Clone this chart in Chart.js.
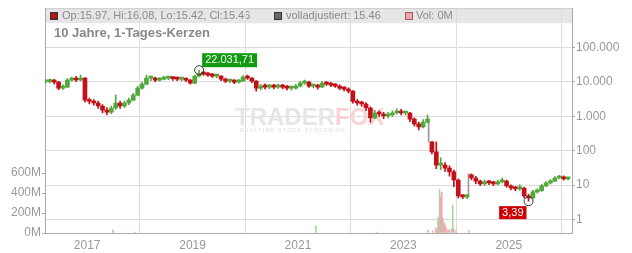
<!DOCTYPE html>
<html>
<head>
<meta charset="utf-8">
<script src="https://cdn.jsdelivr.net/npm/chart.js@4.4.1/dist/chart.umd.min.js"></script>
<style>
  html, body { margin: 0; padding: 0; background: #fff; }
</style>
</head>
<body>
<canvas id="chart" width="632" height="253"></canvas>
<script>
// Monatskerzen ab März 2016
const firstMonth = '2016-03';
const monthOpen = [
  10000, 10300, 10600, 9900, 6650, 7100, 11350, 12100, 11400, 13000,
  2980, 2700, 2440, 2000, 1520, 1330, 1750, 2440, 2000, 2440,
  2980, 4160, 6650, 8700, 13000, 13000, 11350, 12100, 13000, 13000,
  12500, 12100, 12100, 11350, 9300, 14800, 18150, 17000, 15900, 14800,
  14800, 12100, 10600, 10600, 9900, 10600, 13900, 13000, 10600, 6650,
  7600, 7100, 7600, 7100, 7600, 7100, 6650, 6650, 7600, 9300,
  9900, 7600, 7600, 7100, 9300, 8700, 8130, 7600, 6650, 6200,
  5450, 2700, 2440, 2280, 1750, 893, 1250, 1170, 1020, 1090,
  1250, 1420, 1250, 1250, 830, 600, 490, 680, 180, 92,
  38, 38, 31, 24, 14, 4.8, 4.5, 19.7, 16, 13,
  10.8, 12.3, 11.5, 10.8, 12.3, 13, 9.4, 8.2, 7.7, 8.2,
  4.8, 4.2, 6.3, 6.8, 9.4, 11.5, 13, 16, 17.2, 15
];
const monthHigh = [
  12000, 12200, 12000, 10500, 8200, 12500, 14000, 14500, 15900, 13500,
  3400, 3100, 2800, 2200, 1800, 2000, 4160, 2800, 2800, 3400,
  4700, 7600, 10000, 15900, 14800, 14000, 13500, 14500, 14200, 14000,
  13800, 13500, 13000, 12000, 15900, 22031.71, 20500, 19000, 18000, 17000,
  15500, 13000, 12000, 11800, 12000, 15500, 15900, 13500, 11000, 8600,
  8800, 8600, 8500, 8700, 8600, 8000, 7600, 8600, 10500, 11400,
  10500, 8700, 8500, 10200, 10300, 9600, 9000, 8200, 7400, 6800,
  5600, 3100, 2800, 2500, 1900, 1500, 1450, 1300, 1300, 1450,
  1650, 1600, 1420, 1300, 900, 680, 800, 1090, 185, 180,
  62, 45, 36, 27, 15, 5.3, 5.2, 21, 18, 14,
  14, 13.5, 12.8, 14, 16, 13.8, 10.2, 9.0, 10.2, 8.6,
  5.4, 7.0, 7.8, 10.4, 12.6, 14.5, 17.5, 19.2, 18.4, 16.8
];
const monthLow = [
  9300, 9400, 8700, 6000, 6100, 6900, 10500, 10200, 10800, 2600,
  2300, 2100, 1700, 1250, 1090, 1200, 1600, 1700, 1800, 2200,
  2800, 3900, 6200, 8300, 11000, 10200, 10500, 11400, 11600, 11200,
  11000, 10800, 10200, 8600, 9000, 14000, 15500, 14500, 13500, 13200,
  11000, 9600, 9500, 9000, 9200, 10200, 11800, 9600, 5400, 6000,
  6300, 6400, 6300, 6500, 6300, 5900, 5800, 6200, 7200, 8500,
  6900, 6700, 6200, 6900, 7900, 7300, 6900, 6000, 5500, 4800,
  2400, 2100, 1950, 1450, 680, 850, 1000, 850, 900, 1000,
  1150, 1100, 1080, 700, 520, 400, 460, 640, 80, 30,
  28, 25, 18, 9, 4.2, 4.0, 4.0, 14, 11, 9.6,
  9.8, 10.2, 9.5, 10, 11.5, 8.6, 7.2, 6.8, 7.0, 4.2,
  3.39, 4.0, 5.8, 6.5, 9.0, 10.8, 12.4, 15.2, 13.8, 14.0
];
const monthClose = [
  10300, 10600, 9900, 6650, 7100, 11350, 12100, 11400, 13000, 2980,
  2700, 2440, 2000, 1520, 1330, 1750, 2440, 2000, 2440, 2980,
  4160, 6650, 8700, 13000, 13000, 11350, 12100, 13000, 13000, 12500,
  12100, 12100, 11350, 9300, 14800, 18150, 17000, 15900, 14800, 14800,
  12100, 10600, 10600, 9900, 10600, 13900, 13000, 10600, 6650, 7600,
  7100, 7600, 7100, 7600, 7100, 6650, 6650, 7600, 9300, 9900,
  7600, 7600, 7100, 9300, 8700, 8130, 7600, 6650, 6200, 5450,
  2700, 2440, 2280, 1750, 893, 1250, 1170, 1020, 1090, 1250,
  1420, 1250, 1250, 830, 600, 490, 680, 830, 92, 38,
  38, 31, 24, 14, 4.8, 4.5, 4.5, 16, 13, 10.8,
  12.3, 11.5, 10.8, 12.3, 13, 9.4, 8.2, 7.7, 8.2, 4.8,
  4.2, 6.3, 6.8, 9.4, 11.5, 13, 16, 17.2, 15, 15.46
];

// Kurslücken (grau)
const gapDates = ['2023-06-25', '2024-03-27'];
const gapFrom = [830, 4.5];
const gapTo = [180, 21];

// Volumen in Mio.
const volDates = [
  '2017-06-28', '2017-11-28', '2021-05-05', '2022-07-01', '2023-06-21',
  '2023-07-24', '2023-08-15', '2023-08-22', '2023-08-29', '2023-09-05',
  '2023-09-09', '2023-09-16', '2023-09-24', '2023-10-01', '2023-10-08',
  '2023-10-15', '2023-10-23', '2023-11-06', '2023-11-17', '2023-12-01',
  '2023-12-09', '2023-12-16', '2024-01-01', '2024-03-29'
];
const volValues = [
  30, 10, 70, 10, 30,
  20, 50, 30, 160, 120,
  440, 360, 410, 150, 110,
  90, 60, 30, 30, 40,
  280, 40, 20, 30
];
const volUp = [
  0, 1, 1, 0, 0,
  0, 0, 0, 1, 0,
  1, 0, 0, 0, 1,
  0, 0, 0, 0, 1,
  1, 0, 0, 1
];

const yearTicks = [2017, 2019, 2021, 2023, 2025];
const priceTicks = [1, 10, 100, 1000, 10000, 100000];
const volTicks = [0, 200, 400, 600];

const legendText = 'Op:15.97, Hi:16.08, Lo:15.42, Cl:15.46';
const adjText = 'volladjustiert: 15.46';
const volText = 'Vol: 0M';
const titleText = '10 Jahre, 1-Tages-Kerzen';
const brandA = 'TRADER';
const brandB = 'FOX';
const brandSub = 'REALTIME STOCK SCREENING';

const FONT = '"Liberation Sans", Arial, sans-serif';
const UP = '#52a83a';
const DOWN = '#c41018';

function monthYear(i) {
  const [y, m] = firstMonth.split('-').map(Number);
  return y + (m - 1 + i + 0.5) / 12;
}
function dateYear(s) {
  const d = new Date(s + 'T00:00:00Z');
  const y = d.getUTCFullYear();
  const a = Date.UTC(y, 0, 1), b = Date.UTC(y + 1, 0, 1);
  return y + (d - a) / (b - a);
}
function formatDE(v, dec) {
  const parts = v.toFixed(dec).split('.');
  const int = parts[0].replace(/\B(?=(\d{3})+(?!\d))/g, '.');
  return parts[1] ? int + ',' + parts[1] : int;
}

const candleColors = monthClose.map((c, i) => c >= monthOpen[i] ? UP : DOWN);
const bodies = monthClose.map((c, i) => ({ x: monthYear(i), y: [monthOpen[i], c] }));
const wicks = monthClose.map((c, i) => ({ x: monthYear(i), y: [monthLow[i], monthHigh[i]] }));
const gaps = gapDates.map((d, i) => ({ x: dateYear(d), y: [gapTo[i], gapFrom[i]] }));
const vols = volDates.map((d, i) => ({ x: dateYear(d), y: volValues[i] }));
const volColors = volUp.map(u => u ? '#a6dc9c' : '#f2a7b0');

const decor = {
  id: 'decor',
  beforeDraw(chart) {
    const c = chart.ctx, a = chart.chartArea;
    c.save();
    c.fillStyle = '#e6e6e6';
    c.fillRect(a.left + 1, a.top, a.right - a.left - 1, 15);
    c.strokeStyle = '#cccccc';
    c.lineWidth = 1;
    c.beginPath();
    c.moveTo(a.left, a.top + 0.5);
    c.lineTo(a.right, a.top + 0.5);
    c.stroke();

    const sq = (x, fill, line) => {
      c.fillStyle = fill;
      c.fillRect(x + 0.5, 12.5, 7, 7);
      c.strokeStyle = line;
      c.strokeRect(x + 0.5, 12.5, 7, 7);
    };
    sq(50, '#b0141a', '#333');
    sq(274, '#666666', '#333');
    sq(405, '#f2a7b0', '#9a5a60');
    c.font = '11px ' + FONT;
    c.fillStyle = '#8a8a8a';
    c.textBaseline = 'middle';
    c.fillText(legendText, 62, 16);
    c.fillText(adjText, 286, 16);
    c.fillText(volText, 416, 16);

    c.font = 'bold 13px ' + FONT;
    c.fillStyle = '#888';
    c.fillText(titleText, 54, 33);
    c.restore();
  },
  beforeDatasetsDraw(chart) {
    const c = chart.ctx;
    c.save();
    c.font = 'bold 24px ' + FONT;
    c.textBaseline = 'alphabetic';
    c.fillStyle = '#e6e6e6';
    c.fillText(brandA, 235, 125);
    const w = c.measureText(brandA).width;
    c.fillStyle = '#fad4d4';
    c.fillText(brandB, 235 + w, 125);
    c.font = 'bold 5px ' + FONT;
    if ('letterSpacing' in c) c.letterSpacing = '1.3px';
    c.fillStyle = '#e6e6e6';
    c.fillText(brandSub, 240, 132);
    c.restore();
  },
  afterDatasetsDraw(chart) {
    const c = chart.ctx;
    const xs = chart.scales.x, ps = chart.scales.price;
    let iMax = 0, iMin = 0;
    monthHigh.forEach((v, i) => { if (v > monthHigh[iMax]) iMax = i; });
    monthLow.forEach((v, i) => { if (v < monthLow[iMin]) iMin = i; });
    c.save();
    c.font = '11px ' + FONT;
    c.textBaseline = 'middle';

    // Hoch
    let px = xs.getPixelForValue(monthYear(iMax));
    let py = ps.getPixelForValue(monthHigh[iMax]);
    let t = formatDE(monthHigh[iMax], 2);
    let tw = c.measureText(t).width;
    c.fillStyle = '#109a10';
    c.fillRect(px + 3, py - 17, tw + 6, 14);
    c.fillStyle = '#fff';
    c.fillText(t, px + 6, py - 10);
    c.strokeStyle = '#333';
    c.lineWidth = 1;
    c.beginPath();
    c.arc(px, py, 4.5, 0, Math.PI * 2);
    c.stroke();

    // Tief
    px = xs.getPixelForValue(monthYear(iMin));
    py = ps.getPixelForValue(monthLow[iMin]);
    t = formatDE(monthLow[iMin], 2);
    tw = c.measureText(t).width;
    c.fillStyle = '#cc0000';
    c.fillRect(px - tw - 8, py + 5, tw + 6, 13);
    c.fillStyle = '#fff';
    c.fillText(t, px - tw - 5, py + 12);
    c.beginPath();
    c.arc(px, py, 4.5, 0, Math.PI * 2);
    c.stroke();
    c.restore();
  }
};

new Chart(document.getElementById('chart'), {
  type: 'bar',
  data: {
    datasets: [
      { label: 'Kerze', data: bodies, yAxisID: 'price', backgroundColor: candleColors,
        barThickness: 4, minBarLength: 2, grouped: false },
      { label: 'Docht', data: wicks, yAxisID: 'price', backgroundColor: candleColors,
        barThickness: 1, grouped: false },
      { label: 'Lücke', data: gaps, yAxisID: 'price', backgroundColor: '#9a9a9a',
        barThickness: 1, grouped: false },
      { label: 'Volumen', data: vols, yAxisID: 'vol', backgroundColor: volColors,
        barThickness: 1, grouped: false }
    ]
  },
  options: {
    responsive: false,
    animation: false,
    devicePixelRatio: 1,
    layout: { padding: { top: 8, left: 0, right: 0, bottom: 0 } },
    plugins: { legend: { display: false }, tooltip: { enabled: false } },
    scales: {
      x: {
        type: 'linear', min: 2016.2, max: 2026.2, offset: false,
        afterBuildTicks: s => { s.ticks = yearTicks.map(v => ({ value: v })); },
        afterFit: s => { s.height = 20; },
        grid: { color: '#dcdcdc', drawTicks: false },
        border: { color: '#aaaaaa' },
        ticks: { color: '#999', font: { size: 12, family: FONT }, padding: 5, maxRotation: 0,
          callback: v => String(v) }
      },
      vol: {
        type: 'linear', position: 'left', min: 0, max: 2250,
        afterBuildTicks: s => { s.ticks = volTicks.map(v => ({ value: v })); },
        afterFit: s => { s.width = 45; },
        grid: { drawOnChartArea: false, tickLength: 3, tickColor: '#aaaaaa' },
        border: { color: '#aaaaaa' },
        ticks: { color: '#999', font: { size: 12, family: FONT }, padding: 1,
          callback: v => v + 'M' }
      },
      price: {
        type: 'logarithmic', position: 'right', min: 0.4, max: 1.41e6,
        afterBuildTicks: s => { s.ticks = priceTicks.map(v => ({ value: v })); },
        afterFit: s => { s.width = 60; },
        grid: { color: '#dcdcdc', tickLength: 3, tickColor: '#aaaaaa' },
        border: { color: '#aaaaaa' },
        ticks: { color: '#999', font: { size: 12, family: FONT }, padding: 1,
          callback: v => formatDE(v, 0) }
      }
    }
  },
  plugins: [decor]
});
</script>
</body>
</html>
